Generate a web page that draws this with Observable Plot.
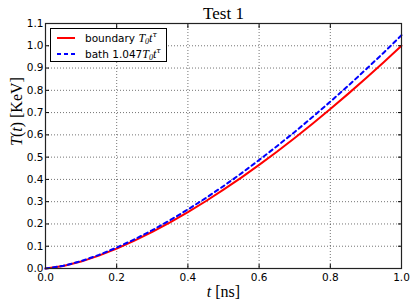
<!DOCTYPE html>
<html><head><meta charset="utf-8">
<script src="https://cdn.jsdelivr.net/npm/d3@7"></script>
<script src="https://cdn.jsdelivr.net/npm/@observablehq/plot@0.6"></script>
<style>
body{margin:0;background:#fff;}
#wrap{position:relative;width:415px;height:308px;}
#legend{position:absolute;left:50px;top:28px;width:117px;height:34px;border:1px solid #000;background:#fff;font-family:"DejaVu Sans",sans-serif;font-size:10.5px;box-sizing:border-box;}
#legend .row{position:absolute;left:6px;height:14px;display:flex;align-items:center;white-space:nowrap;}
#legend svg{margin-right:10px;}
#legend i{font-family:"Liberation Serif",serif;font-size:12px;}
#legend sub{font-size:8px;font-family:"Liberation Serif",serif;font-style:italic;vertical-align:-2px;}
#legend sup{font-size:8px;font-family:"DejaVu Serif",serif;font-style:italic;vertical-align:5px;}
</style></head>
<body><div id="wrap"></div>
<script>
const t = [0, 0.05, 0.1, 0.15, 0.2, 0.25, 0.3, 0.35, 0.4, 0.45, 0.5, 0.55, 0.6, 0.65, 0.7, 0.75, 0.8, 0.85, 0.9, 0.95, 1.0];
const boundary = [0, 0.011, 0.031, 0.058, 0.089, 0.125, 0.164, 0.207, 0.253, 0.302, 0.354, 0.408, 0.465, 0.524, 0.586, 0.65, 0.716, 0.784, 0.854, 0.926, 1.0];
const bath = [0, 0.012, 0.033, 0.061, 0.094, 0.131, 0.172, 0.217, 0.265, 0.316, 0.37, 0.427, 0.487, 0.549, 0.613, 0.68, 0.749, 0.82, 0.894, 0.969, 1.047];
const xTicks = [0, 0.2, 0.4, 0.6, 0.8, 1.0];
const yTicks = [0, 0.1, 0.2, 0.3, 0.4, 0.5, 0.6, 0.7, 0.8, 0.9, 1.0, 1.1];

const rows = [];
t.forEach((v, i) => { rows.push({t: v, T: boundary[i], s: "boundary"}); });
t.forEach((v, i) => { rows.push({t: v, T: bath[i], s: "bath"}); });

const serif = "'Liberation Serif', serif";
const blank = () => "";
const chart = Plot.plot({
  width: 415, height: 308,
  marginLeft: 45, marginRight: 14, marginTop: 23, marginBottom: 40,
  style: {fontFamily: "'DejaVu Sans', sans-serif", fontSize: "10.5px", color: "#000", background: "#fff"},
  x: {domain: [0, 1], ticks: xTicks},
  y: {domain: [0, 1.1], ticks: yTicks},
  marks: [
    Plot.gridX(xTicks, {stroke: "#000", strokeOpacity: 0.55, strokeDasharray: "1,2"}),
    Plot.gridY(yTicks, {stroke: "#000", strokeOpacity: 0.55, strokeDasharray: "1,2"}),
    Plot.line(rows.filter(d => d.s === "boundary"), {x: "t", y: "T", stroke: "#ff0000", strokeWidth: 2}),
    Plot.line(rows.filter(d => d.s === "bath"), {x: "t", y: "T", stroke: "#0000ff", strokeWidth: 2, strokeDasharray: "4,3.5"}),
    Plot.axisX(xTicks, {anchor: "bottom", tickSize: -4, tickPadding: 9, tickFormat: d3.format(".1f"), label: null}),
    Plot.axisX(xTicks, {anchor: "top", tickSize: -4, tickFormat: blank, label: null}),
    Plot.axisY(yTicks, {anchor: "left", tickSize: -4, tickPadding: 6, tickFormat: d3.format(".1f"), label: null}),
    Plot.axisY(yTicks, {anchor: "right", tickSize: -4, tickFormat: blank, label: null}),
    Plot.frame({stroke: "#222", strokeWidth: 1.2}),
    Plot.text(["Test 1"], {frameAnchor: "top", dy: -17, fontFamily: serif, fontSize: 17}),
    Plot.text(["t [ns]"], {frameAnchor: "bottom", dy: 28, fontFamily: serif, fontSize: 16}),
    Plot.text(["T(t) [KeV]"], {frameAnchor: "left", dx: -29, rotate: -90, fontFamily: serif, fontSize: 16})
  ]
});
document.getElementById("wrap").appendChild(chart);

d3.select(chart).selectAll("text").each(function() {
  const el = d3.select(this);
  const txt = el.text();
  if (txt === "t [ns]") {
    el.text(null);
    el.append("tspan").attr("font-style", "italic").text("t");
    el.append("tspan").text(" [ns]");
  } else if (txt === "T(t) [KeV]") {
    el.text(null);
    el.append("tspan").attr("font-style", "italic").text("T");
    el.append("tspan").text("(");
    el.append("tspan").attr("font-style", "italic").text("t");
    el.append("tspan").text(") [KeV]");
  }
});

const legendItems = [
  {label: "boundary", coef: "", color: "#ff0000", dash: null},
  {label: "bath", coef: "1.047", color: "#0000ff", dash: "4,3"}
];
const lg = document.createElement("div");
lg.id = "legend";
legendItems.forEach((it, i) => {
  const r = document.createElement("div");
  r.className = "row";
  r.style.top = (2 + i * 16) + "px";
  r.innerHTML = `<svg width="18" height="6"><line x1="0" y1="3" x2="18" y2="3" stroke="${it.color}" stroke-width="2" ${it.dash ? `stroke-dasharray="${it.dash}"` : ""}/></svg><span>${it.label} ${it.coef}<i>T</i><sub>0</sub><i>t</i><sup>τ</sup></span>`;
  lg.appendChild(r);
});
document.getElementById("wrap").appendChild(lg);
</script>
</body></html>
